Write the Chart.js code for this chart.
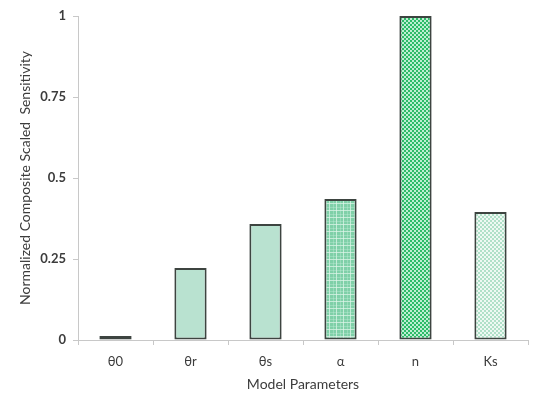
<!DOCTYPE html>
<html><head><meta charset="utf-8">
<script src="https://cdn.jsdelivr.net/npm/chart.js@4.4.1/dist/chart.umd.min.js"></script>
<style>html,body{margin:0;padding:0;background:#fff}#wrap{width:550px;height:393px}</style>
</head><body><div id="wrap"><canvas id="c" width="550" height="393"></canvas></div>
<script>
const categories = ['θ0','θr','θs','α','n','Ks'];
const values = [0.012, 0.222, 0.358, 0.435, 1.0, 0.395];
const yTicks = [0, 0.25, 0.5, 0.75, 1];

function tile(w, h, draw) {
  const c = document.createElement('canvas'); c.width = w; c.height = h;
  const g = c.getContext('2d'); draw(g);
  return document.getElementById('c').getContext('2d').createPattern(c, 'repeat');
}
const plaid = tile(7, 7, g => {
  g.fillStyle = '#7fd0a8'; g.fillRect(0,0,7,7);
  g.fillStyle = 'rgba(225,247,235,0.7)'; g.fillRect(0,0,1,7); g.fillRect(0,0,7,1);
  g.fillStyle = 'rgba(200,240,220,0.35)'; g.fillRect(4,0,1,7); g.fillRect(0,4,7,1);
});
const dots = tile(4, 4, g => {
  g.fillStyle = '#2dbb68'; g.fillRect(0,0,4,4);
  g.fillStyle = '#bdeed2'; g.fillRect(0,0,2,2); g.fillRect(2,2,2,2);
});
const check = tile(4, 4, g => {
  g.fillStyle = '#b0e0c8'; g.fillRect(0,0,4,4);
  g.fillStyle = '#eef9f3'; g.fillRect(0,0,2,2); g.fillRect(2,2,2,2);
});
const fills = ['#22703f', '#b9e2d0', '#b9e2d0', plaid, dots, check];
const txt = '#3c3c3c';

new Chart(document.getElementById('c'), {
  type: 'bar',
  data: { labels: categories, datasets: [{ data: values, backgroundColor: fills,
    borderColor: '#3d4440', borderWidth: 2, borderSkipped: false,
    categoryPercentage: 1, barPercentage: 0.43 }] },
  options: {
    responsive: false, animation: false, devicePixelRatio: 1,
    layout: { padding: { top: 16, right: 22, bottom: 0, left: 0 } },
    plugins: { legend: { display: false }, tooltip: { enabled: false } },
    scales: {
      x: {
        grid: { display: true, drawOnChartArea: false, drawTicks: true, tickLength: 5, color: '#c8c8c8', offset: true },
        border: { display: true, color: '#c8c8c8', width: 1 },
        ticks: { color: txt, font: { family: 'Lato', size: 13 }, padding: 9 },
        title: { display: true, text: 'Model Parameters', color: txt, font: { family: 'Lato', size: 14 }, padding: { top: 3, bottom: 0 } },
        afterFit: s => { s.height = 53; }
      },
      y: {
        min: 0, max: 1,
        afterBuildTicks: s => { s.ticks = yTicks.map(v => ({ value: v })); },
        grid: { display: true, drawOnChartArea: false, drawTicks: true, tickLength: 5, color: '#c8c8c8' },
        border: { display: true, color: '#c8c8c8', width: 1 },
        ticks: { color: txt, font: { family: 'Lato', size: 13, weight: 'bold' }, padding: 7, callback: v => String(v) },
        title: { display: true, text: 'Normalized Composite Scaled  Sensitivity', color: txt, font: { family: 'Lato', size: 14 }, padding: { top: 17, bottom: 0 } },
        afterFit: s => { s.width = 78; }
      }
    }
  }
});
</script></body></html>
